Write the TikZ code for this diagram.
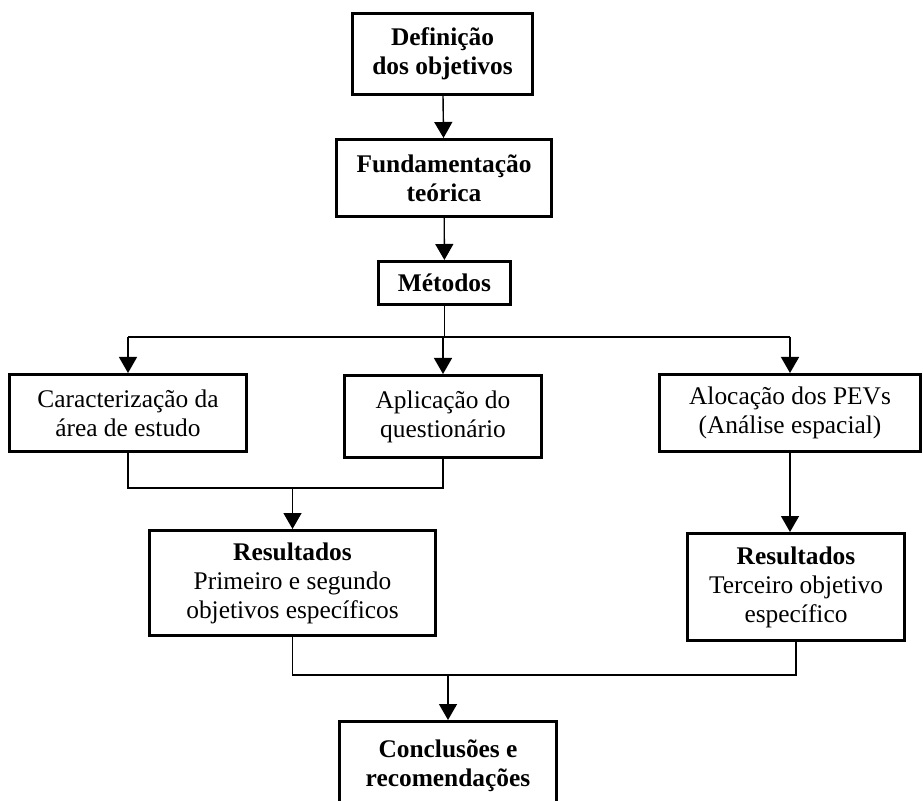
\documentclass[tikz,border=0pt]{standalone}
\usepackage{fontspec}
\setmainfont{Liberation Serif}
\usetikzlibrary{arrows.meta, positioning, calc}

\begin{document}
\begin{tikzpicture}[
            x=0.5pt, y=-0.5pt,
            stepbox/.style={
                rectangle, draw=black, line width=1.5pt,
                inner sep=0pt, align=center,
                font=\fontsize{12.7pt}{14.5pt}\selectfont
            },
            flow/.style={draw=black, line width=0.7pt},
            flowarrow/.style={flow, -{Triangle[width=9pt, length=8pt]}}
        ]
            \clip (0,0) rectangle (924,801);

            % etapas principais
            \node[stepbox, minimum width=90pt, minimum height=40.5pt] (objetivos) at (442.5,54)
                {\textbf{Definição}\\\textbf{dos objetivos}};
            \node[stepbox, minimum width=107.5pt, minimum height=38.5pt] (fundamentacao) at (444,178)
                {\textbf{Fundamentação}\\\textbf{teórica}};
            \node[stepbox, minimum width=66pt, minimum height=21.5pt] (metodos) at (444.5,283)
                {\textbf{Métodos}};

            % métodos
            \node[stepbox, minimum width=118.5pt, minimum height=38.5pt] (caracterizacao) at (128,413)
                {Caracterização da\\área de estudo};
            \node[stepbox, minimum width=98.5pt, minimum height=41pt] (aplicacao) at (443,416.5)
                {Aplicação do\\questionário};
            \node[stepbox, minimum width=130.5pt, minimum height=38.5pt] (alocacao) at (790,413)
                {Alocação dos PEVs\\(Análise espacial)};

            % resultados
            \node[stepbox, minimum width=143pt, minimum height=52.5pt] (resultadosA) at (292.5,583)
                {\textbf{Resultados}\\Primeiro e segundo\\objetivos específicos};
            \node[stepbox, minimum width=108.5pt, minimum height=53.5pt] (resultadosB) at (796,587)
                {\textbf{Resultados}\\Terceiro objetivo\\específico};
            \node[stepbox, minimum width=108.5pt, minimum height=44pt] (conclusoes) at (448,765.5)
                {\textbf{Conclusões e}\\\textbf{recomendações}};

            \coordinate (split) at (443,337);
            \coordinate (joinA) at (293,488);
            \coordinate (joinB) at (448,675);

            \draw[flowarrow] (objetivos) -- (fundamentacao);
            \draw[flowarrow] (fundamentacao) -- (metodos);

            \draw[flow] (metodos.south) -- (metodos.south |- split);
            \draw[flow] (caracterizacao.north |- split) -- (alocacao.north |- split);
            \draw[flowarrow] (caracterizacao.north |- split) -- (caracterizacao.north);
            \draw[flowarrow] (aplicacao.north |- split) -- (aplicacao.north);
            \draw[flowarrow] (alocacao.north |- split) -- (alocacao.north);

            \draw[flow] (caracterizacao.south) -- (caracterizacao.south |- joinA)
                -- (aplicacao.south |- joinA) -- (aplicacao.south);
            \draw[flowarrow] (joinA -| resultadosA.north) -- (resultadosA.north);
            \draw[flowarrow] (alocacao.south) -- (alocacao.south |- resultadosB.north);

            \draw[flow] (resultadosA.south) -- (resultadosA.south |- joinB)
                -- (resultadosB.south |- joinB) -- (resultadosB.south);
            \draw[flowarrow] (joinB) -- (conclusoes.north);
        \end{tikzpicture}
\end{document}
